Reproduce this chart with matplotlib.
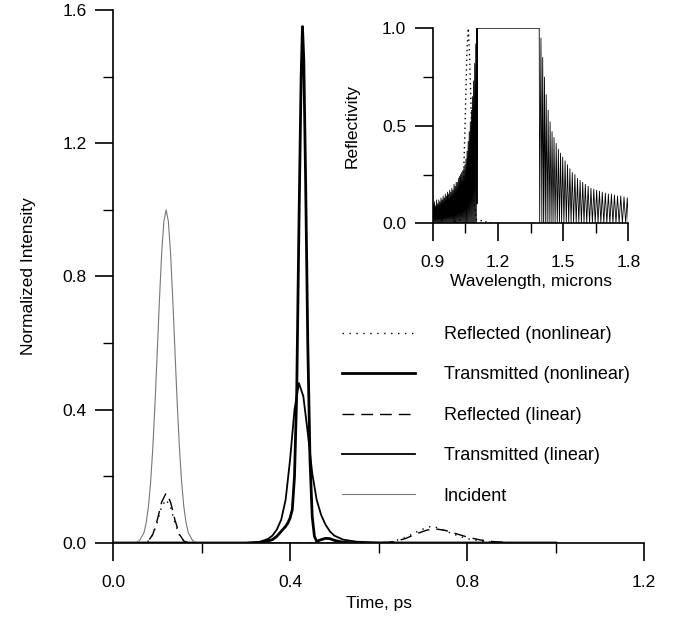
import matplotlib
matplotlib.use("Agg")
import matplotlib.pyplot as plt

plt.rcParams['font.family'] = ['Liberation Sans', 'DejaVu Sans']

# ---- main plot data (time in ps, normalized intensity) ----
t_inc = [0.0, 0.04, 0.05, 0.06, 0.07, 0.075, 0.08, 0.085, 0.09, 0.095, 0.10, 0.105, 0.11, 0.115,
         0.12, 0.125, 0.13, 0.135, 0.14, 0.145, 0.15, 0.155, 0.16, 0.165, 0.17, 0.18, 0.19, 0.20, 1.0]
y_inc = [0.0, 0.0, 0.001, 0.007, 0.031, 0.061, 0.109, 0.183, 0.287, 0.421, 0.575, 0.732, 0.871, 0.966,
         1.0, 0.966, 0.871, 0.732, 0.575, 0.421, 0.287, 0.183, 0.109, 0.061, 0.031, 0.007, 0.001, 0.0, 0.0]

t_refl_lin = [0.0, 0.06, 0.07, 0.08, 0.09, 0.10, 0.11, 0.12, 0.13, 0.14, 0.15, 0.16, 0.17, 0.18,
              0.60, 0.63, 0.66, 0.69, 0.71, 0.73, 0.75, 0.77, 0.80, 0.83, 0.86, 0.90, 1.0]
y_refl_lin = [0.0, 0.0, 0.001, 0.006, 0.026, 0.069, 0.123, 0.15, 0.123, 0.069, 0.026, 0.006, 0.001, 0.0,
              0.0, 0.003, 0.013, 0.030, 0.039, 0.042, 0.038, 0.030, 0.018, 0.009, 0.004, 0.001, 0.0]

t_refl_nl = [0.0, 0.06, 0.07, 0.08, 0.09, 0.10, 0.11, 0.12, 0.13, 0.14, 0.15, 0.16, 0.17, 0.18,
             0.60, 0.63, 0.66, 0.69, 0.71, 0.72, 0.73, 0.75, 0.77, 0.80, 0.83, 0.86, 0.90, 1.0]
y_refl_nl = [0.0, 0.0, 0.001, 0.006, 0.025, 0.062, 0.110, 0.130, 0.108, 0.060, 0.024, 0.006, 0.001, 0.0,
             0.0, 0.004, 0.016, 0.036, 0.047, 0.050, 0.047, 0.037, 0.026, 0.013, 0.006, 0.002, 0.0, 0.0]

t_trans_nl = [0.0, 0.30, 0.34, 0.36, 0.37, 0.38, 0.39, 0.395, 0.40, 0.405, 0.41, 0.415, 0.42, 0.425,
              0.428, 0.431, 0.435, 0.44, 0.445, 0.45, 0.455, 0.46, 0.47, 0.48, 0.49, 0.50, 0.52, 0.55, 1.0]
y_trans_nl = [0.0, 0.0, 0.002, 0.01, 0.02, 0.035, 0.05, 0.06, 0.075, 0.10, 0.2, 0.45, 0.95, 1.4,
              1.55, 1.45, 1.1, 0.6, 0.25, 0.08, 0.02, 0.005, 0.01, 0.014, 0.013, 0.008, 0.002, 0.0, 0.0]

t_trans_lin = [0.0, 0.30, 0.33, 0.35, 0.36, 0.37, 0.38, 0.39, 0.40, 0.41, 0.42, 0.43, 0.44, 0.45,
               0.46, 0.47, 0.48, 0.49, 0.50, 0.52, 0.55, 0.60, 0.70, 1.0]
y_trans_lin = [0.0, 0.0, 0.003, 0.012, 0.022, 0.04, 0.07, 0.13, 0.25, 0.40, 0.48, 0.44, 0.33, 0.21,
               0.13, 0.085, 0.055, 0.035, 0.022, 0.01, 0.004, 0.001, 0.0, 0.0]

# ---- inset data: grating reflectivity fringes (peak wavelength, peak height) ----
wl_left_pk = [0.903, 0.908, 0.913, 0.918, 0.923, 0.928, 0.933, 0.938, 0.943, 0.948, 0.953, 0.958,
              0.963, 0.968, 0.973, 0.978, 0.983, 0.988, 0.993, 0.998, 1.003, 1.008, 1.013, 1.018,
              1.023, 1.028, 1.033, 1.038, 1.043, 1.048, 1.053, 1.058, 1.063, 1.068, 1.073, 1.078,
              1.083, 1.088, 1.093, 1.098, 1.103]
r_left_pk = [0.10, 0.11, 0.09, 0.12, 0.10, 0.12, 0.11, 0.13, 0.12, 0.14, 0.13, 0.15,
             0.14, 0.16, 0.15, 0.17, 0.16, 0.18, 0.17, 0.20, 0.19, 0.21, 0.21, 0.23,
             0.24, 0.25, 0.26, 0.27, 0.28, 0.30, 0.33, 0.37, 0.42, 0.47, 0.52, 0.58,
             0.65, 0.73, 0.82, 0.92, 1.0]
wl_band = [1.106, 1.390]
r_band = [1.0, 1.0]
wl_right_pk = [1.398, 1.406, 1.414, 1.422, 1.431, 1.440, 1.449, 1.458, 1.468, 1.478, 1.488, 1.498,
               1.509, 1.520, 1.531, 1.542, 1.554, 1.566, 1.578, 1.590, 1.602, 1.615, 1.628, 1.641,
               1.654, 1.667, 1.680, 1.694, 1.708, 1.722, 1.736, 1.750, 1.765, 1.780, 1.795]
r_right_pk = [0.95, 0.85, 0.75, 0.66, 0.58, 0.52, 0.47, 0.44, 0.41, 0.38, 0.36, 0.34,
              0.32, 0.30, 0.28, 0.26, 0.25, 0.23, 0.22, 0.21, 0.20, 0.19, 0.18, 0.175,
              0.17, 0.165, 0.16, 0.155, 0.15, 0.15, 0.145, 0.14, 0.14, 0.135, 0.13]
wl_pulse = [0.98, 1.03, 1.04, 1.05, 1.058, 1.064, 1.07, 1.08, 1.09, 1.10, 1.17]
r_pulse = [0.0, 0.02, 0.15, 0.55, 0.9, 1.0, 0.85, 0.45, 0.12, 0.02, 0.0]

# build the fringe trace: zero between consecutive peaks
wl_spec, r_spec = [0.900], [0.0]
for i, (w, r) in enumerate(zip(wl_left_pk, r_left_pk)):
    wl_spec += [w]
    r_spec += [r]
    if i < len(wl_left_pk) - 1:
        wl_spec += [(w + wl_left_pk[i + 1]) / 2]
        r_spec += [0.0]
wl_spec += [1.104, wl_band[0]]
r_spec += [0.1, r_band[0]]
wl_spec += [wl_band[1], 1.392]
r_spec += [r_band[1], 0.0]
for i, (w, r) in enumerate(zip(wl_right_pk, r_right_pk)):
    wl_spec += [w]
    r_spec += [r]
    nxt = wl_right_pk[i + 1] if i < len(wl_right_pk) - 1 else 1.80
    wl_spec += [(w + nxt) / 2 if nxt < 1.80 else 1.80]
    r_spec += [0.0]

fig = plt.figure(figsize=(6.89, 6.22), dpi=100)
ax = fig.add_axes([0.164, 0.127, 0.771, 0.857])

ax.plot(t_refl_nl, y_refl_nl, color='black', lw=1.0, ls=(0, (1, 4)), label='Reflected (nonlinear)')
ax.plot(t_trans_nl, y_trans_nl, color='black', lw=2.0, label='Transmitted (nonlinear)')
ax.plot(t_refl_lin, y_refl_lin, color='black', lw=1.0, ls=(0, (8.5, 5)), label='Reflected (linear)')
ax.plot(t_trans_lin, y_trans_lin, color='black', lw=1.3, label='Transmitted (linear)')
ax.plot(t_inc, y_inc, color='#777777', lw=0.8, label='Incident')

ax.set_xlim(0, 1.2)
ax.set_ylim(0, 1.6)
ax.set_xticks([0.0, 0.4, 0.8, 1.2])
ax.set_xticks([0.2, 0.6, 1.0], minor=True)
ax.set_yticks([0.0, 0.4, 0.8, 1.2, 1.6])
ax.set_yticks([0.2, 0.6, 1.0, 1.4], minor=True)
ax.set_xticklabels(['0.0', '0.4', '0.8', '1.2'])
ax.set_yticklabels(['0.0', '0.4', '0.8', '1.2', '1.6'])
for s in ['top', 'right']:
    ax.spines[s].set_visible(False)
for s in ['left', 'bottom']:
    ax.spines[s].set_linewidth(1.2)
ax.tick_params(which='major', direction='out', length=13, width=1.2, labelsize=12.5)
ax.tick_params(which='minor', direction='out', length=7, width=1.0)
ax.tick_params(axis='x', which='major', pad=10)
ax.tick_params(axis='y', which='major', pad=6)
ax.set_xlabel('Time, ps', fontsize=12.5, labelpad=4)
ax.set_ylabel('Normalized Intensity', fontsize=12.5, labelpad=19)

ax.legend(frameon=False, loc='upper left', bbox_to_anchor=(0.497, 0.476),
          bbox_transform=fig.transFigure, fontsize=13, handlelength=4.0,
          handletextpad=1.6, labelspacing=1.3, borderpad=0, borderaxespad=0)

# ---- inset ----
ins = fig.add_axes([0.628, 0.641, 0.284, 0.3135])
ins.plot(wl_spec, r_spec, color='black', lw=0.6)
ins.plot(wl_pulse, r_pulse, color='black', lw=1.0, ls=(0, (1, 2.5)))
ins.set_xlim(0.9, 1.8)
ins.set_ylim(0, 1.0)
ins.set_xticks([0.9, 1.2, 1.5, 1.8])
ins.set_xticks([1.05, 1.35, 1.65], minor=True)
ins.set_yticks([0.0, 0.5, 1.0])
ins.set_yticks([0.25, 0.75], minor=True)
ins.set_xticklabels(['0.9', '1.2', '1.5', '1.8'])
ins.set_yticklabels(['0.0', '0.5', '1.0'])
for s in ['top', 'right']:
    ins.spines[s].set_visible(False)
for s in ['left', 'bottom']:
    ins.spines[s].set_linewidth(1.2)
ins.tick_params(which='major', direction='out', length=13, width=1.2, labelsize=12.5)
ins.tick_params(which='minor', direction='out', length=7, width=1.0)
ins.tick_params(axis='x', which='major', pad=10)
ins.tick_params(axis='y', which='major', pad=6)
ins.set_xlabel('Wavelength, microns', fontsize=12.5, labelpad=3)
ins.set_ylabel('Reflectivity', fontsize=12.5, labelpad=16)

fig.savefig('out.png', dpi=100)
